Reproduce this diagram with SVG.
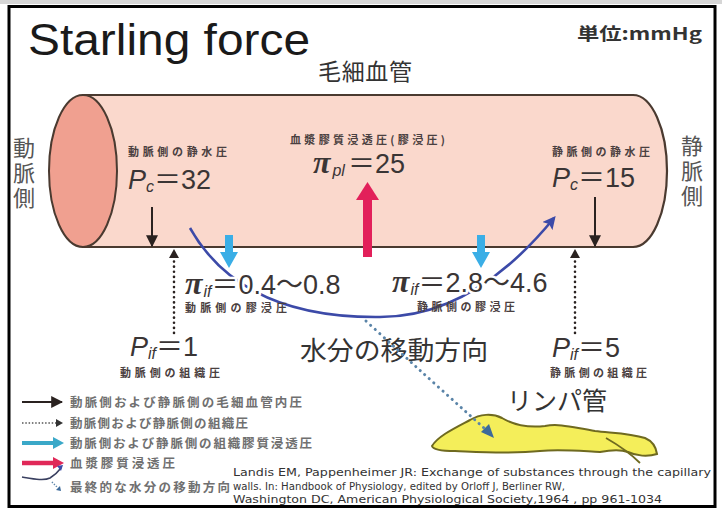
<svg xmlns="http://www.w3.org/2000/svg" width="722" height="511" viewBox="0 0 722 511">
  <style>
    .jp { font-family: "Noto Sans CJK JP", sans-serif; }
    .lat { font-family: "Liberation Sans", "Noto Sans CJK JP", sans-serif; }
    .side { font-family: "Noto Sans CJK JP", sans-serif; font-size: 22px; fill: #555; writing-mode: vertical-rl; letter-spacing: 3px; }
    .cap { font-family: "Noto Sans CJK JP", sans-serif; font-size: 11px; font-weight: bold; fill: #4a4040; }
    .val { font-family: "Liberation Sans", "Noto Sans CJK JP", sans-serif; font-size: 27px; fill: #3a3535; }
    .sub { font-style: italic; font-size: 16px; }
    .pi { font-family: "Liberation Serif", serif; font-style: italic; font-weight: bold; font-size: 32px; }
    .halo { stroke: #fff; stroke-width: 5px; paint-order: stroke; stroke-linejoin: round; }
    .leg { font-family: "Noto Sans CJK JP", sans-serif; font-size: 12.5px; font-weight: bold; fill: #707070; }
    .cite { font-family: "DejaVu Sans", "Liberation Sans", sans-serif; font-size: 11px; fill: #333; }
    .press { stroke: #2a2220; stroke-width: 2; fill: none; }
    .tissue { stroke: #2a2220; stroke-width: 2.6; stroke-dasharray: 0.1 5; stroke-linecap: round; fill: none; }
    .onc { stroke: #3aaee6; stroke-width: 8; fill: none; }
    .plasma { stroke: #e2205a; stroke-width: 9; fill: none; }
    .flow { stroke: #3c4aa8; stroke-width: 2.6; fill: none; }
    .lymphflow { stroke: #5a84a8; stroke-width: 3; stroke-dasharray: 0.1 6; stroke-linecap: round; fill: none; }
  </style>
  <defs>
    <marker id="headBlack" viewBox="0 0 10 10" refX="9" refY="5" markerWidth="6" markerHeight="6" orient="auto" markerUnits="strokeWidth">
      <path d="M0,0 L10,5 L0,10 Z" fill="#2a2220"/>
    </marker>
    <marker id="headFlow" viewBox="0 0 10 10" refX="8" refY="5" markerWidth="5" markerHeight="5" orient="auto" markerUnits="strokeWidth">
      <path d="M0,0 L10,5 L0,10 L2,5 Z" fill="#3c4aa8"/>
    </marker>
  </defs>

  <!-- page and frame -->
  <rect x="0" y="0" width="722" height="511" fill="#fff"/>
  <rect x="0" y="0" width="722" height="4" fill="#d6d6d6"/>
  <rect x="9" y="6.5" width="706" height="500" fill="#fff" stroke="#000" stroke-width="3"/>

  <g id="title">
    <text x="28" y="55" class="lat" font-size="45" fill="#1a1a1a" textLength="282" lengthAdjust="spacingAndGlyphs">Starling force</text>
  </g>
  <g id="unit">
    <text x="577" y="40" class="jp" font-size="17" font-weight="bold" fill="#333" textLength="125" lengthAdjust="spacingAndGlyphs">単位:mmHg</text>
  </g>
  <g id="capillary-label">
    <text x="318" y="80" class="jp" font-size="23" fill="#333" textLength="94">毛細血管</text>
  </g>

  <!-- capillary tube -->
  <g id="vessel">
    <path d="M83,95 L633,95 A34,76 0 0 1 633,247 L83,247 Z" fill="#fad8cc" stroke="#4a3a30" stroke-width="2.2"/>
    <ellipse cx="83" cy="171" rx="34" ry="76" fill="#f0a090" stroke="#4a3a30" stroke-width="2"/>
  </g>

  <g id="arterial-side">
    <text x="24" y="137" class="side">動脈側</text>
  </g>
  <g id="venous-side">
    <text x="692" y="135" class="side">静脈側</text>
  </g>

  <!-- connectors -->
  <g id="connectors">
    <line class="press" x1="152" y1="207" x2="152" y2="246" marker-end="url(#headBlack)"/>
    <line class="press" x1="595" y1="197" x2="595" y2="246" marker-end="url(#headBlack)"/>
    <line class="tissue" x1="174" y1="333" x2="174" y2="259"/>
    <path d="M174,249 L179,258 L169,258 Z" fill="#2a2220"/>
    <line class="tissue" x1="575" y1="333" x2="575" y2="259"/>
    <path d="M575,249 L580,258 L570,258 Z" fill="#2a2220"/>
    <!-- oncotic pressure of interstitium -->
    <line class="onc" x1="229" y1="235" x2="229" y2="254"/>
    <path d="M220,252 L238,252 L229,268 Z" fill="#3aaee6"/>
    <line class="onc" x1="481" y1="235" x2="481" y2="254"/>
    <path d="M472,252 L490,252 L481,268 Z" fill="#3aaee6"/>
    <!-- plasma oncotic pressure -->
    <line class="plasma" x1="367.5" y1="257" x2="367.5" y2="196"/>
    <path d="M356,200 L379,200 L367.5,182 Z" fill="#e2205a"/>
    <!-- net water movement -->
    <path class="flow" d="M190,228 C225,290 290,318 380,317 C448,317 505,278 554,218" marker-end="url(#headFlow)"/>
  </g>

  <g id="pc-arterial">
    <text x="128" y="156" class="cap" textLength="99" lengthAdjust="spacing">動脈側の静水圧</text>
    <text x="128" y="189" class="val"><tspan font-style="italic">P</tspan><tspan class="sub" dy="3">c</tspan><tspan dy="-3">＝32</tspan></text>
  </g>
  <g id="pc-venous">
    <text x="552" y="156" class="cap" textLength="98" lengthAdjust="spacing">静脈側の静水圧</text>
    <text x="552" y="187" class="val"><tspan font-style="italic">P</tspan><tspan class="sub" dy="3">c</tspan><tspan dy="-3">＝15</tspan></text>
  </g>
  <g id="pi-plasma">
    <text x="290" y="144" class="cap" textLength="155" lengthAdjust="spacing">血漿膠質浸透圧(膠浸圧)</text>
    <text x="313" y="173" class="val"><tspan class="pi">π</tspan><tspan class="sub" dx="2" dy="3">pl</tspan><tspan dx="3" dy="-3">＝25</tspan></text>
  </g>
  <g id="pi-if-arterial">
    <text x="185" y="294" class="val halo"><tspan class="pi">π</tspan><tspan class="sub" dx="1" dy="3">if</tspan><tspan dy="-3">＝0.4～0.8</tspan></text>
    <text x="185" y="312" class="cap" textLength="102" lengthAdjust="spacing">動脈側の膠浸圧</text>
  </g>
  <g id="pi-if-venous">
    <text x="392" y="292" class="val halo"><tspan class="pi">π</tspan><tspan class="sub" dx="1" dy="3">if</tspan><tspan dy="-3">＝2.8～4.6</tspan></text>
    <text x="417" y="311" class="cap" textLength="98" lengthAdjust="spacing">静脈側の膠浸圧</text>
  </g>
  <g id="pif-arterial">
    <text x="130" y="356" class="val"><tspan font-style="italic">P</tspan><tspan class="sub" dy="3">if</tspan><tspan dy="-3">＝1</tspan></text>
    <text x="120" y="377" class="cap" textLength="100" lengthAdjust="spacing">動脈側の組織圧</text>
  </g>
  <g id="pif-venous">
    <text x="552" y="357" class="val"><tspan font-style="italic">P</tspan><tspan class="sub" dy="3">if</tspan><tspan dy="-3">＝5</tspan></text>
    <text x="550" y="377" class="cap" textLength="97" lengthAdjust="spacing">静脈側の組織圧</text>
  </g>
  <g id="water-direction">
    <text x="300" y="360" class="jp" font-size="26" fill="#333" textLength="188" lengthAdjust="spacingAndGlyphs">水分の移動方向</text>
  </g>

  <g id="lymph">
    <text x="507" y="410" class="jp" font-size="25" fill="#333" textLength="100" lengthAdjust="spacing">リンパ管</text>
    <path d="M432,446 C438,436 455,428 470,420 C480,414 492,413 502,418 C512,424 527,428 545,426 C560,423 575,428 595,431 C612,433 630,433 645,438 C652,441 656,447 657,454 C648,457 636,456 628,452 C620,449 610,450 600,452 C580,451 560,449 540,451 C510,454 480,452 455,451 C442,451 433,450 432,446 Z" fill="#f4ee5a" stroke="#6f6a20" stroke-width="2"/>
    <path d="M606,438 C620,446 632,455 640,463" fill="none" stroke="#6f6a20" stroke-width="1.8"/>
  </g>

  <!-- seepage into the lymph vessel -->
  <g id="lymph-flow">
    <path class="lymphflow" d="M366,321 Q428,378 484,428"/>
    <path d="M494,438 L481,432 L489,424 Z" fill="#3c6a9a"/>
  </g>

  <g id="legend">
    <line class="press" x1="22" y1="402" x2="62" y2="402" stroke-width="1.6" marker-end="url(#headBlack)"/>
    <text x="70" y="407" class="leg" textLength="232" lengthAdjust="spacing">動脈側および静脈側の毛細血管内圧</text>
    <line x1="22" y1="423" x2="56" y2="423" stroke="#555" stroke-width="1.6" stroke-dasharray="1.5 1.8"/>
    <path d="M56,419 L63,423 L56,427 Z" fill="#333"/>
    <text x="70" y="428" class="leg" textLength="178" lengthAdjust="spacing">動脈側および静脈側の組織圧</text>
    <line x1="22" y1="443" x2="54" y2="443" stroke="#3aa8c8" stroke-width="4"/>
    <path d="M53,437 L64,443 L53,449 Z" fill="#3aa8c8"/>
    <text x="70" y="448" class="leg" textLength="242" lengthAdjust="spacing">動脈側および静脈側の組織膠質浸透圧</text>
    <line x1="22" y1="463" x2="54" y2="463" stroke="#e02858" stroke-width="4.5"/>
    <path d="M53,457 L64,463 L53,469 Z" fill="#e02858"/>
    <text x="70" y="468" class="leg" textLength="105" lengthAdjust="spacing">血漿膠質浸透圧</text>
    <path d="M22,477 C34,479 44,481 50,478 C55,475 58,472 61,468" fill="none" stroke="#3a4060" stroke-width="1.6"/>
    <path d="M57,466 L63,465 L61,471 Z" fill="#3c4aa8"/>
    <line x1="52" y1="482" x2="58" y2="488" stroke="#5a84a8" stroke-width="1.6" stroke-dasharray="1.2 1.6"/>
    <path d="M56,490 L61,491 L60,486 Z" fill="#3c6a9a"/>
    <text x="70" y="492" class="leg" textLength="160" lengthAdjust="spacing">最終的な水分の移動方向</text>
  </g>

  <g id="citation">
    <text x="233" y="476" class="cite" textLength="478" lengthAdjust="spacingAndGlyphs">Landis EM, Pappenheimer JR: Exchange of substances through the capillary</text>
    <text x="233" y="490" class="cite" textLength="332" lengthAdjust="spacingAndGlyphs">walls. In: Handbook of Physiology, edited by Orloff J, Berliner RW,</text>
    <text x="233" y="503" class="cite" textLength="429" lengthAdjust="spacingAndGlyphs">Washington DC, American Physiological Society,1964 , pp 961-1034</text>
  </g>
</svg>
